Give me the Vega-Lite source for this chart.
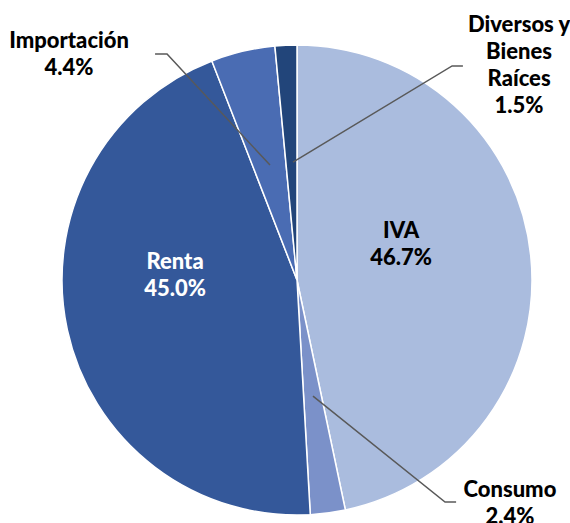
{
  "$schema": "https://vega.github.io/schema/vega-lite/v6.json",
  "width": 470,
  "height": 470,
  "autosize": {"type": "none"},
  "padding": {"left": 62, "top": 45, "right": 38, "bottom": 8},
  "background": "white",
  "config": {"view": {"stroke": null}},
  "datasets": {
    "slices": [
      {"categoria": "IVA", "pct": 46.7, "orden": 1},
      {"categoria": "Consumo", "pct": 2.4, "orden": 2},
      {"categoria": "Renta", "pct": 45.0, "orden": 3},
      {"categoria": "Importación", "pct": 4.4, "orden": 4},
      {"categoria": "Diversos y Bienes Raíces", "pct": 1.5, "orden": 5}
    ],
    "etiquetas": [
      {"categoria": "IVA", "texto": "IVA\n46.7%", "x": 0.443, "y": 0.209},
      {"categoria": "Renta", "texto": "Renta\n45.0%", "x": -0.519, "y": 0.077},
      {"categoria": "Importación", "texto": "Importación\n4.4%", "x": -0.97, "y": 1.015},
      {"categoria": "Diversos y Bienes Raíces", "texto": "Diversos y\nBienes\nRaíces\n1.5%", "x": 0.945, "y": 1.085},
      {"categoria": "Consumo", "texto": "Consumo\n2.4%", "x": 0.906, "y": -0.894}
    ],
    "guias": [
      {"guia": "Importación", "paso": 1, "x": -0.604, "y": 0.962},
      {"guia": "Importación", "paso": 2, "x": -0.553, "y": 0.962},
      {"guia": "Importación", "paso": 3, "x": -0.115, "y": 0.489},
      {"guia": "Diversos", "paso": 1, "x": 0.706, "y": 0.911},
      {"guia": "Diversos", "paso": 2, "x": 0.66, "y": 0.911},
      {"guia": "Diversos", "paso": 3, "x": -0.017, "y": 0.502},
      {"guia": "Consumo", "paso": 1, "x": 0.068, "y": -0.494},
      {"guia": "Consumo", "paso": 2, "x": 0.63, "y": -0.945},
      {"guia": "Consumo", "paso": 3, "x": 0.677, "y": -0.945}
    ]
  },
  "layer": [
    {
      "data": {"name": "slices"},
      "mark": {"type": "arc", "stroke": "white", "strokeWidth": 1.5},
      "encoding": {
        "theta": {"field": "pct", "type": "quantitative", "stack": true},
        "order": {"field": "orden", "type": "quantitative"},
        "color": {
          "field": "categoria",
          "type": "nominal",
          "scale": {
            "domain": ["IVA", "Consumo", "Renta", "Importación", "Diversos y Bienes Raíces"],
            "range": ["#AABCDE", "#7B91C9", "#34589A", "#4A6CB3", "#22457A"]
          },
          "legend": null
        }
      }
    },
    {
      "data": {"name": "guias"},
      "mark": {"type": "line", "color": "#595959", "strokeWidth": 1.5},
      "encoding": {
        "x": {"field": "x", "type": "quantitative", "scale": {"domain": [-1, 1], "nice": false}, "axis": null},
        "y": {"field": "y", "type": "quantitative", "scale": {"domain": [-1, 1], "nice": false}, "axis": null},
        "detail": {"field": "guia"},
        "order": {"field": "paso", "type": "quantitative"}
      }
    },
    {
      "data": {"name": "etiquetas"},
      "mark": {
        "type": "text",
        "font": "Lato",
        "fontWeight": 900,
        "fontSize": 22,
        "lineBreak": "\n",
        "lineHeight": 27,
        "align": "center",
        "baseline": "middle"
      },
      "encoding": {
        "x": {"field": "x", "type": "quantitative", "scale": {"domain": [-1, 1], "nice": false}, "axis": null},
        "y": {"field": "y", "type": "quantitative", "scale": {"domain": [-1, 1], "nice": false}, "axis": null},
        "text": {"field": "texto"},
        "color": {"condition": {"test": "datum.categoria === 'Renta'", "value": "white"}, "value": "black"}
      }
    }
  ]
}
